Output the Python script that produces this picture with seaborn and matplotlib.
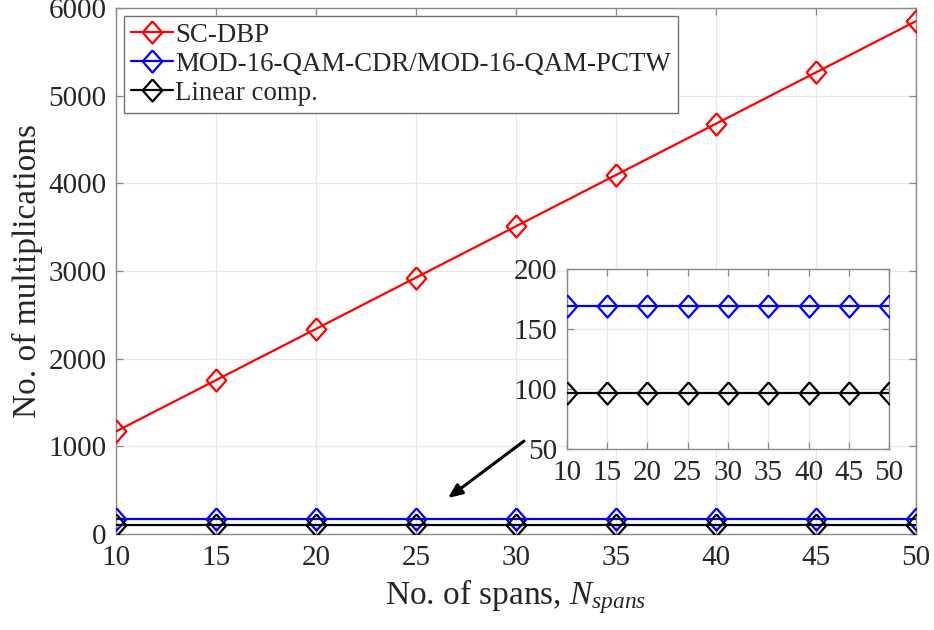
import matplotlib
matplotlib.use("Agg")
import matplotlib.pyplot as plt
import numpy as np
import pandas as pd
import seaborn as sns

# Number of spans and the multiplication counts for each scheme
spans = [10, 15, 20, 25, 30, 35, 40, 45, 50]
sc_dbp = [1170, 1755, 2340, 2925, 3510, 4095, 4680, 5265, 5850]
mod16 = [169, 169, 169, 169, 169, 169, 169, 169, 169]
linear = [97, 97, 97, 97, 97, 97, 97, 97, 97]

labels = ["SC-DBP", "MOD-16-QAM-CDR/MOD-16-QAM-PCTW", "Linear comp."]
colors = ["#ff0000", "#0000ff", "#000000"]

yticks_main = [0, 1000, 2000, 3000, 4000, 5000, 6000]
yticks_inset = [50, 100, 150, 200]

df = pd.DataFrame({
    "spans": spans * 3,
    "mults": sc_dbp + mod16 + linear,
    "scheme": [labels[0]] * len(spans) + [labels[1]] * len(spans) + [labels[2]] * len(spans),
})

sns.set_theme(style="white")
plt.rcParams["font.family"] = ["Liberation Serif", "DejaVu Serif"]
plt.rcParams["mathtext.fontset"] = "custom"
plt.rcParams["mathtext.rm"] = "Liberation Serif"
plt.rcParams["mathtext.it"] = "Liberation Serif:italic"

diamond = [(0, 1), (0.88, 0), (0, -1), (-0.88, 0), (0, 1)]
spine_col = "#8a8a8a"
text_col = "#262626"

fig = plt.figure(figsize=(9.34, 6.30), dpi=100)
ax = fig.add_axes([0.1242, 0.1524, 0.8565, 0.8349])


def style_axes(a, fs):
    for s in a.spines.values():
        s.set_color(spine_col)
        s.set_linewidth(1.0)
    a.grid(True, color="#e6e6e6", linewidth=0.9)
    a.set_axisbelow(True)
    a.tick_params(direction="in", length=5, width=0.9, color=spine_col,
                  labelsize=fs, labelcolor=text_col, top=True, right=True,
                  left=True, bottom=True, pad=5)


def draw(a, legend):
    sns.lineplot(data=df, x="spans", y="mults", hue="scheme", hue_order=labels,
                 palette=colors, marker=diamond, markersize=16,
                 markerfacecolor="none", markeredgewidth=1.6, linewidth=1.6,
                 dashes=False, legend=legend, ax=a, zorder=3)
    for line in a.get_lines():
        line.set_markerfacecolor("none")
        line.set_markeredgecolor(line.get_color())


draw(ax, True)
style_axes(ax, 21)
ax.tick_params(axis="y", pad=7)
ax.tick_params(axis="x", pad=8)
ax.set_xlim(10, 50)
ax.set_ylim(0, 6000)
ax.set_xticks(spans)
ax.set_yticks(yticks_main)
ax.set_xlabel("No. of spans, $N_{spans}$", fontsize=24, color=text_col, labelpad=4)
ax.set_ylabel("No. of multiplications", fontsize=24, color=text_col, labelpad=4)

handles, _ = ax.get_legend_handles_labels()
for h in handles:
    h.set_markerfacecolor("none")
    h.set_markeredgecolor(h.get_color())
leg = ax.legend(handles, labels, loc="upper left", fontsize=19.4, frameon=True,
                fancybox=False, edgecolor="#707070", framealpha=1,
                handlelength=1.55, handletextpad=0.1, borderpad=0.25,
                labelspacing=0.15, borderaxespad=0.3)
leg.get_frame().set_linewidth(1.0)

# Arrow pointing from the zoomed view down to the flat curves
ax.annotate("", xy=(26.6, 410), xytext=(30.4, 1060),
            arrowprops=dict(arrowstyle="-|>,head_length=0.7,head_width=0.3",
                            color="black", lw=2.2, shrinkA=0, shrinkB=0))

# Inset with the two low-complexity schemes
ins = fig.add_axes([0.607, 0.287, 0.345, 0.286])
draw(ins, False)
style_axes(ins, 21)
ins.set_xlim(10, 50)
ins.set_ylim(50, 200)
ins.set_xticks(spans)
ins.set_yticks(yticks_inset)
ins.tick_params(axis="x", pad=8)
ins.tick_params(axis="y", pad=7)
ins.set_xlabel("")
ins.set_ylabel("")

fig.savefig("out.png", dpi=100)
